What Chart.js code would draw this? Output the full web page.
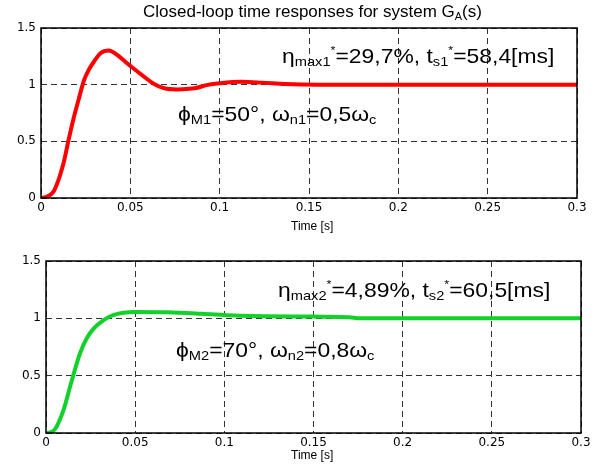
<!DOCTYPE html>
<html>
<head>
<meta charset="utf-8">
<script src="https://cdn.jsdelivr.net/npm/chart.js@4/dist/chart.umd.min.js"></script>
<style>
	body { margin: 0; background: #fff; }
	#wrap { position: relative; width: 596px; height: 470px; overflow: hidden; background: #fff; }
	canvas { position: absolute; left: 0; }
	.txt { position: absolute; font-family: "Liberation Sans", Arial, sans-serif; color: #000; white-space: nowrap; line-height: 1; transform-origin: 0 0; }
	.note { font-size: 21px; transform: scaleX(1.09); }
	.sub { position: relative; top: 0.24em; font-size: 0.64em; }
	.sup { position: relative; top: -0.8em; font-size: 0.55em; }
	.xlabel { font-family: "Liberation Sans Narrow", "Liberation Sans", Arial, sans-serif; font-size: 12px; }
</style>
</head>
<body>
<div id="wrap">
	<canvas id="top" width="596" height="240" style="top:0"></canvas>
	<canvas id="bottom" width="596" height="230" style="top:240px"></canvas>

	<div class="txt" style="left:143px; top:3px; font-size:17px;">Closed-loop time responses for system G<span class="sub">A</span>(s)</div>

	<div class="txt note" style="left:282px; top:45px;">&eta;<span class="sub">max1</span><span class="sup">*</span>=29,7%, t<span class="sub">s1</span><span class="sup">*</span>=58,4[ms]</div>
	<div class="txt note" style="left:178px; top:103px;">&#981;<span class="sub">M1</span>=50&deg;, &omega;<span class="sub">n1</span>=0,5&omega;<span class="sub">c</span></div>
	<div class="txt xlabel" style="left:291px; top:220px;">Time [s]</div>

	<div class="txt note" style="left:278px; top:279px;">&eta;<span class="sub">max2</span><span class="sup">*</span>=4,89%, t<span class="sub">s2</span><span class="sup">*</span>=60,5[ms]</div>
	<div class="txt note" style="left:176px; top:339px;">&#981;<span class="sub">M2</span>=70&deg;, &omega;<span class="sub">n2</span>=0,8&omega;<span class="sub">c</span></div>
	<div class="txt xlabel" style="left:291px; top:449px;">Time [s]</div>
</div>

<script>
// step response, phi_M1 = 50 deg
const timeA = [0, 0.003, 0.007, 0.0098, 0.0126, 0.0154, 0.0182, 0.021, 0.0239, 0.0267, 0.0295, 0.0333, 0.038, 0.0426, 0.0473, 0.052, 0.0577, 0.0633, 0.069, 0.0765, 0.0859, 0.0934, 0.1, 0.112, 0.1235, 0.1366, 0.155, 0.2, 0.3];
const respA = [0, 0.01, 0.056, 0.16, 0.306, 0.51, 0.70, 0.865, 1.03, 1.13, 1.2, 1.277, 1.302, 1.262, 1.2, 1.14, 1.07, 1.006, 0.968, 0.958, 0.968, 0.998, 1.012, 1.025, 1.018, 1.006, 1.0, 1.0, 1.0];

// step response, phi_M2 = 70 deg
const timeB = [0, 0.0025, 0.0051, 0.0098, 0.0145, 0.0192, 0.023, 0.0267, 0.0323, 0.038, 0.05, 0.068, 0.087, 0.106, 0.15, 0.17, 0.176, 0.2, 0.3];
const respB = [0, 0.005, 0.035, 0.2, 0.46, 0.70, 0.83, 0.91, 0.985, 1.03, 1.055, 1.052, 1.04, 1.025, 1.015, 1.01, 1.0, 1.0, 1.0];

const xTicks = [0, 0.05, 0.1, 0.15, 0.2, 0.25, 0.3];
const xTickLabels = ["0", "0.05", "0.1", "0.15", "0.2", "0.25", "0.3"];
const yTicks = [0, 0.5, 1, 1.5];
const yTickLabels = ["0", "0.5", "1", "1.5"];

const frame = {
	id: "frame",
	afterDraw: function (chart) {
		const a = chart.chartArea;
		const ctx = chart.ctx;
		ctx.save();
		ctx.strokeStyle = "#000";
		ctx.lineWidth = 1.5;
		ctx.strokeRect(a.left, a.top, a.right - a.left, a.bottom - a.top);
		ctx.restore();
	}
};

function makeChart(id, times, values, color, pad, yWidth, xHeight) {
	const points = times.map((t, i) => ({ x: t, y: values[i] }));
	const grid = {
		color: "#333",
		lineWidth: 1,
		drawTicks: false
	};
	const tickFont = { family: "DejaVu Sans", size: 12 };
	return new Chart(document.getElementById(id), {
		type: "line",
		data: {
			datasets: [{
				data: points,
				borderColor: color,
				borderWidth: 4,
				pointRadius: 0,
				cubicInterpolationMode: "monotone",
				fill: false
			}]
		},
		options: {
			responsive: false,
			animation: false,
			layout: { padding: pad },
			plugins: {
				legend: { display: false },
				tooltip: { enabled: false }
			},
			scales: {
				x: {
					type: "linear",
					min: 0,
					max: 0.3,
					afterBuildTicks: (scale) => { scale.ticks = xTicks.map(v => ({ value: v })); },
					afterFit: (scale) => { scale.height = xHeight; },
					border: { display: false, dash: [6, 4] },
					grid: grid,
					ticks: {
						padding: 3,
						color: "#000",
						font: tickFont,
						maxRotation: 0,
						callback: (v, i) => xTickLabels[i]
					}
				},
				y: {
					min: 0,
					max: 1.5,
					afterBuildTicks: (scale) => { scale.ticks = yTicks.map(v => ({ value: v })); },
					afterFit: (scale) => { scale.width = yWidth; },
					border: { display: false, dash: [6, 4] },
					grid: grid,
					ticks: {
						padding: 5,
						color: "#000",
						font: tickFont,
						callback: (v, i) => yTickLabels[i]
					}
				}
			}
		},
		plugins: [frame]
	});
}

makeChart("top", timeA, respA, "#ff0000", { top: 28, right: 19, bottom: 0, left: 0 }, 41, 42);
makeChart("bottom", timeB, respB, "#12d12a", { top: 21, right: 15, bottom: 0, left: 0 }, 46, 37);
</script>
</body>
</html>
